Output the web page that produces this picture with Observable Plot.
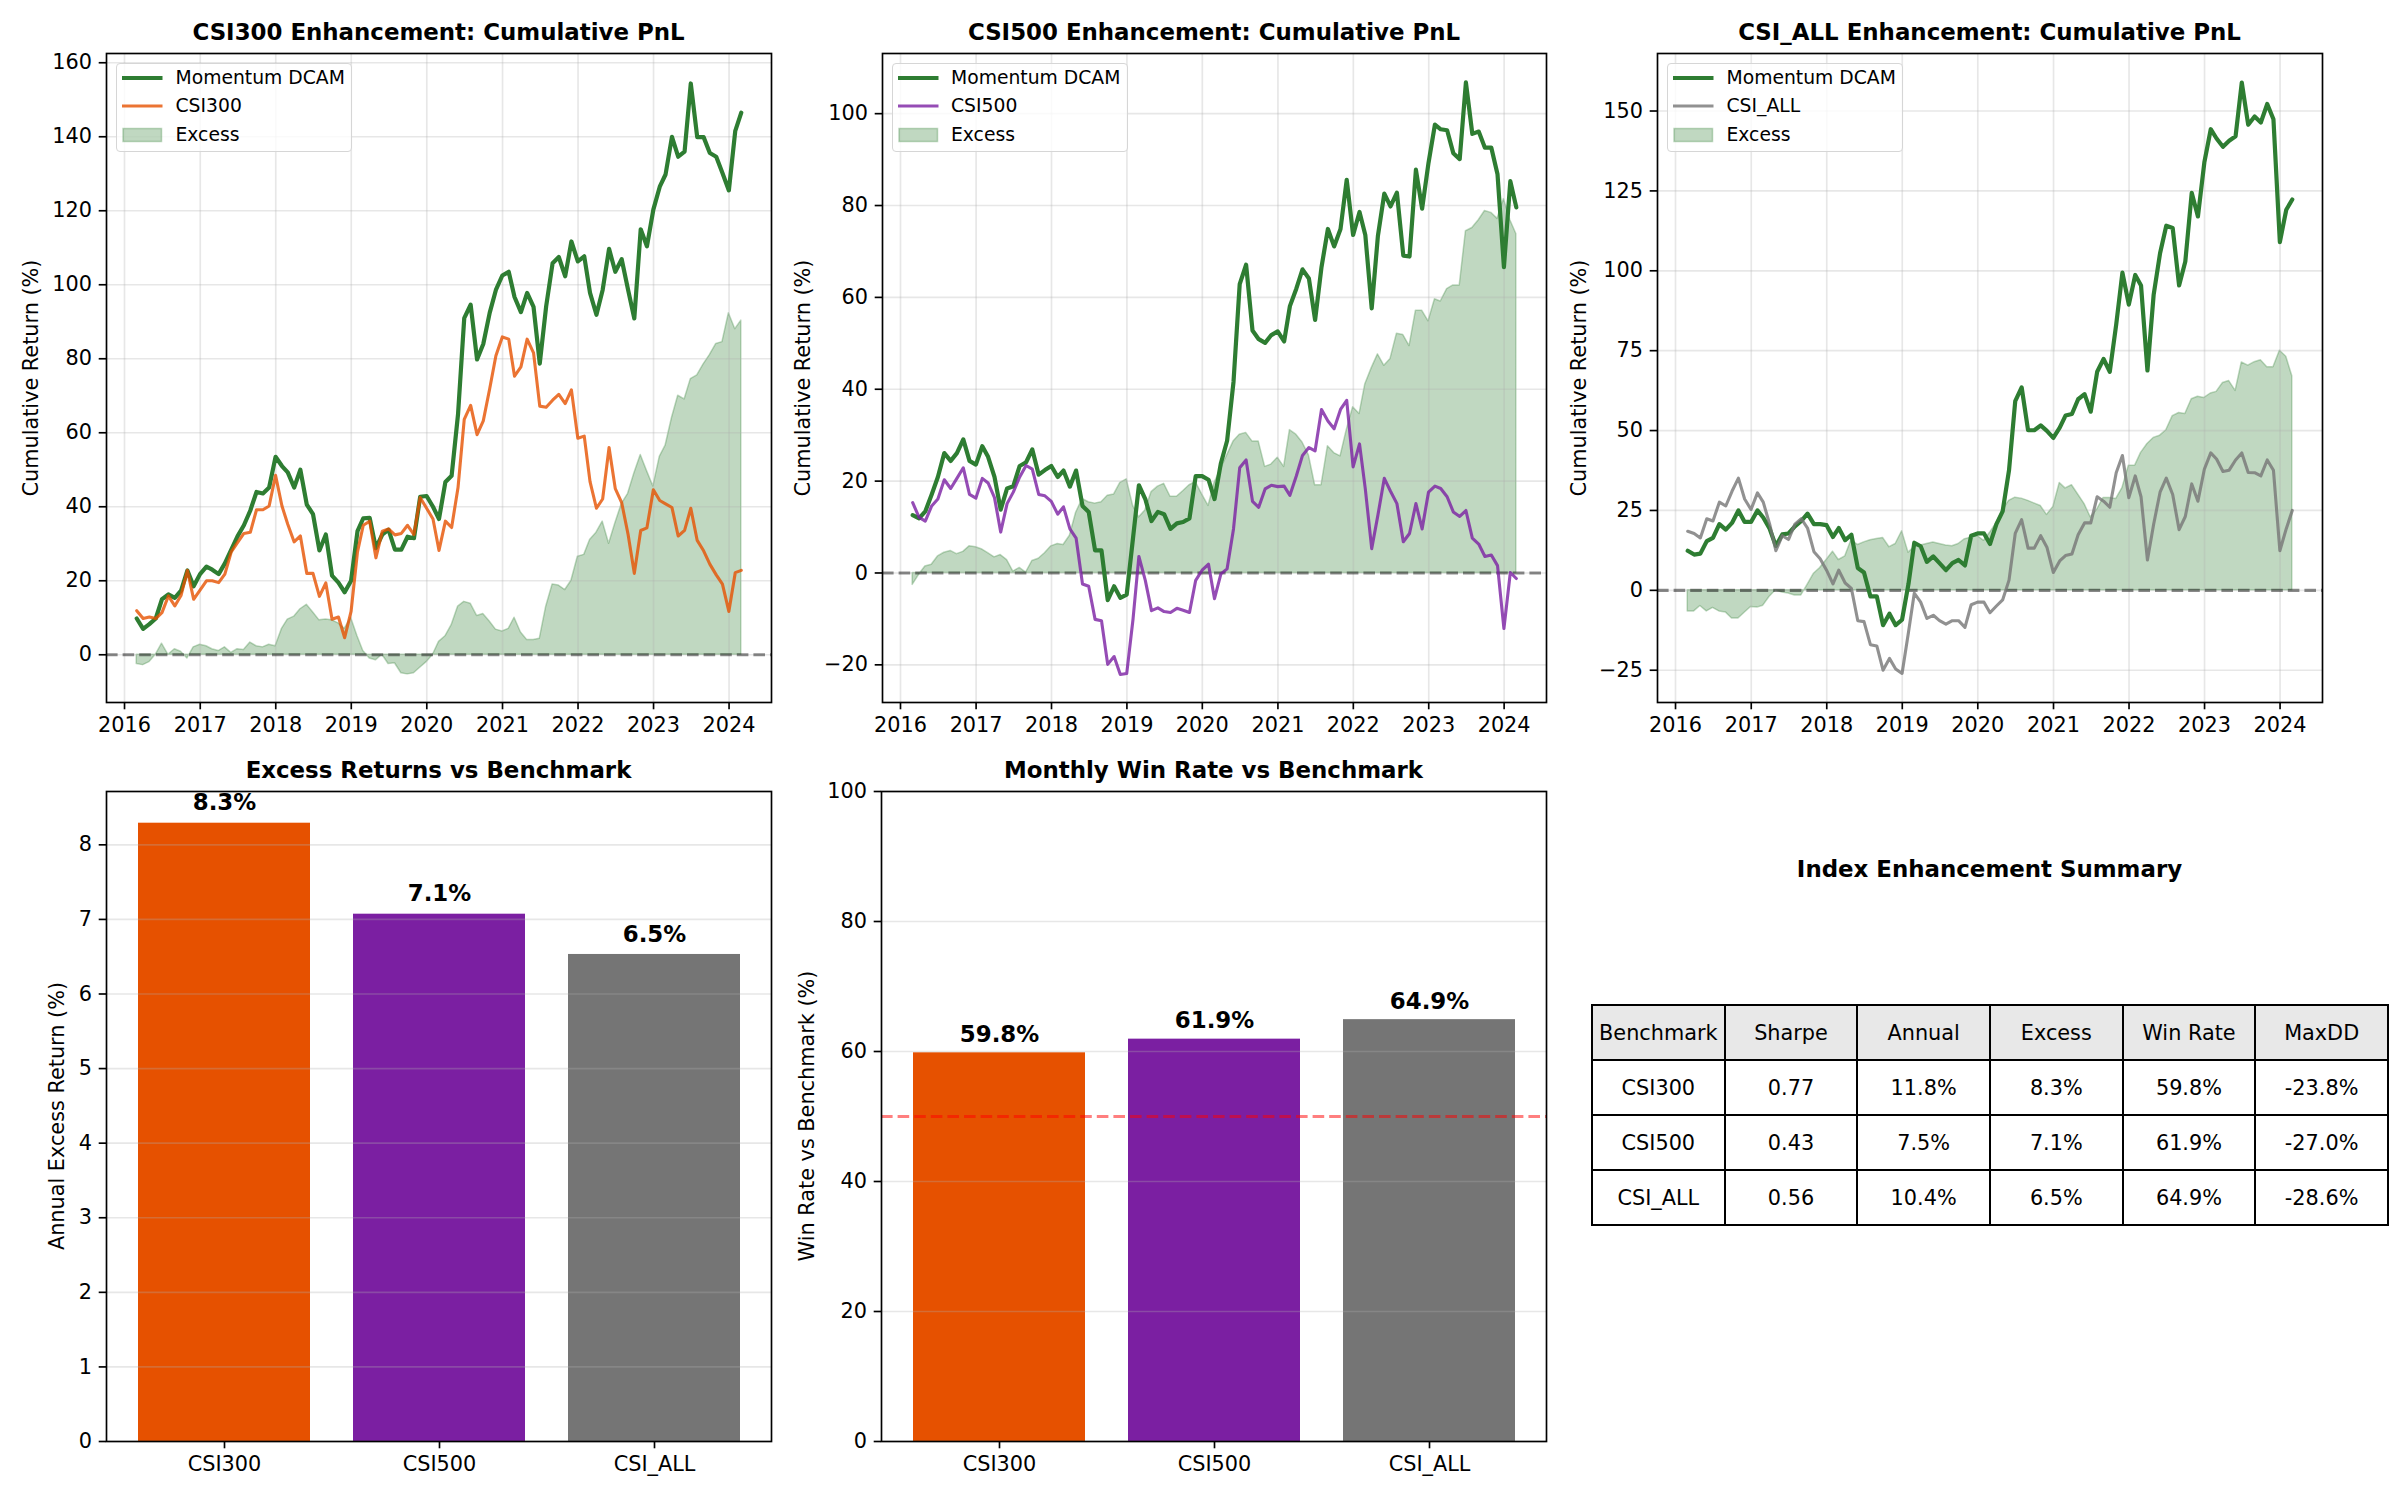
<!DOCTYPE html>
<html><head><meta charset="utf-8">
<script src="https://cdn.jsdelivr.net/npm/d3@7"></script>
<script src="https://cdn.jsdelivr.net/npm/@observablehq/plot@0.6"></script>
<style>
html,body{margin:0;padding:0;background:#fff;}
#fig{position:relative;width:2400px;height:1500px;overflow:hidden;background:#fff;font-family:"DejaVu Sans",sans-serif;color:#000;}
.panel{position:absolute;}
.title{position:absolute;font-weight:bold;font-size:22.9px;line-height:22.9px;text-align:center;white-space:nowrap;}
.ylab{position:absolute;font-size:20.8px;line-height:20.8px;white-space:nowrap;transform:translate(-50%,-50%) rotate(-90deg);}
.legend{position:absolute;box-sizing:border-box;width:236px;height:88.5px;border:1.6px solid #d6d6d6;border-radius:4px;background:rgba(255,255,255,0.8);font-size:18.75px;}
.legend .row{position:absolute;left:0;height:24px;width:100%;}
.legend svg{position:absolute;left:4px;top:0;}
.legend span{position:absolute;left:58.5px;top:0;line-height:24px;white-space:nowrap;}
table.summary{position:absolute;border-collapse:collapse;table-layout:fixed;font-size:20.8px;}
table.summary td{border:2px solid #000;text-align:center;vertical-align:middle;padding:0;white-space:nowrap;overflow:hidden;}
table.summary tr.head td{background:#e8e8e8;}
</style></head>
<body><div id="fig"></div>
<script>
// ---------------- data ----------------
const startMonth = "2016-02";   // first month-end of the series
const endMonth = "2024-02";     // last month-end of the series
const yearTicks = ["2016","2017","2018","2019","2020","2021","2022","2023","2024"];

const csi300Strategy = [9.8,7,8.3,9.8,15,16.3,15.4,17.3,22.8,18.5,
 21.8,23.8,23,21.8,24.7,28.4,32,35,39,44,
 43.6,45.2,53.5,51,49.3,45.2,50,40.6,38,28.2,
 32.5,21.4,19.5,16.9,20,33.4,36.9,37,28.8,32.5,
 33.8,28.4,28.4,31.9,31.5,42.7,42.9,40,36.7,46.7,
 48.4,65,91,94.6,79.8,84,92.4,98.6,102.5,103.5,
 96.7,92.6,97.8,94,78.7,94.2,105.8,107.5,102.3,111.7,
 106.3,107.7,97.8,91.9,98.6,109.7,103.5,106.9,98.6,90.9,
 115,110.4,120.3,126.5,129.8,140,134.6,136,154.4,139.9,
 139.9,135.6,134.6,130.2,125.5,141.6,146.5];
const csi300Index = [11.9,9.8,10.2,9.8,11.4,15.9,13.2,16,22.8,15,
 17.5,20,20,19.5,21.8,27.8,30.3,32.8,33.1,39.2,
 39.2,40.2,48.5,40.2,35.3,30.5,32.1,22,22,15.8,
 19.4,9.6,10.2,4.6,11.7,27.8,35,36.1,26.2,33.4,
 34,32.4,32.8,35,32.5,42.5,39.6,36.7,28.2,36.1,
 34.4,45.2,63.6,67.4,59.5,63.2,71.9,80.8,85.9,85.3,
 75.3,77.8,85.3,81.6,67.2,66.9,68.8,70.4,67.9,71.6,
 58.5,59.1,46.8,39.6,42.1,56,44.9,41.1,32.5,22,
 33.6,34.3,44.6,41.7,40.8,39.8,32.1,33.6,39.6,30.9,
 28.1,24.5,21.6,19.1,11.7,22.2,22.8];
const csi300Excess = [-2.5,-2.8,-2,0,3,0,1.5,0.8,-1,2,
 2.7,2.3,1.5,1,2,0.5,1.5,1.3,3.3,2.3,
 2,2.7,2.3,7,9.5,10.3,12.3,13.5,11.5,9.3,
 9.5,9.3,8.5,7,10,5,1,-1,-1.5,0,
 -2.5,-2.3,-5,-5.3,-5,-3.5,-2,0,3.5,5,
 8,13,14.3,13.8,10.5,11,9,6.8,6.3,7,
 10,6,4,4,4.3,13,19,18.7,17.5,20,
 26.5,27,31,33,36,30,35.5,40.7,43.5,49,
 54,49.7,45.5,53.5,56.5,64,70,69,74.5,75.5,
 78.5,81,84,84.5,92.3,88,90.3];

const csi500Strategy = [12.6,11.9,13.4,17.1,20.9,26.1,24.4,26.1,29.1,24.4,
 23.6,27.6,25.3,20.9,13.8,18.4,18.9,23.3,24.1,26.9,
 21.4,22.4,23.3,20.9,22.3,18.8,22.3,14.6,13.3,4.9,
 4.9,-5.9,-2.9,-5.4,-4.7,7.8,19.1,16.1,11.3,13.3,
 12.8,9.6,10.8,11.1,11.9,21.1,21.1,20.3,16.1,23.9,
 28.8,41.6,62.9,67.1,52.8,50.9,50.1,51.8,52.6,50.4,
 58.1,61.9,66.1,64.1,55.1,66.6,74.9,71.1,74.9,85.6,
 73.6,78.6,73.6,57.6,73.4,82.6,79.8,82.8,69.1,68.9,
 87.8,79.3,89.3,97.6,96.6,96.4,91.4,90.1,106.8,95.6,
 96.1,92.6,92.6,86.8,66.6,85.3,79.6];
const csi500Index = [15.3,12.1,11.3,14.6,16.1,20.3,18.4,20.6,22.9,17.1,
 16.3,20.6,19.6,16.4,8.9,15.1,17.6,20.9,23.4,22.6,
 17.1,16.8,15.6,12.8,14.4,9.6,7.6,-2.4,-2.9,-10.1,
 -10.4,-19.9,-18.2,-22.1,-21.9,-9.9,3.6,-1.6,-8.2,-7.6,
 -8.4,-8.6,-7.7,-8.1,-8.6,-1.6,0.6,1.9,-5.6,-0.2,
 0.9,9.6,22.9,24.6,15.6,14.3,18.3,19.1,18.8,18.9,
 16.9,21.1,25.6,27.3,26.6,35.6,33.1,31.4,35.6,37.6,
 23.1,28.1,18.3,5.3,12.6,20.6,17.8,15.1,6.8,8.6,
 15.1,9.6,17.6,18.9,18.4,16.6,13.3,12.3,13.6,7.6,
 6.3,3.6,3.9,1.6,-12.1,0.1,-1.2];
const csi500Excess = [-2.6,-0.4,1.4,1.8,3.6,4.4,4.8,4.1,4.6,5.8,
 5.6,5.1,4.3,3.4,3.9,2.8,0.3,1.1,0.1,2.6,
 3.1,4.3,5.8,6.3,6.1,8.1,13.1,16.1,15.4,15.1,
 15.4,16.8,17.1,19.6,20.4,14.6,12.1,13.6,17.6,18.8,
 19.4,16.6,16.6,17.8,19.1,19.8,17.1,14.6,19.6,22.6,
 25.6,28.6,30.1,30.5,28.6,28.6,23.1,23.6,25.1,23.1,
 31.1,30.1,28.4,25.6,19.1,19.1,27.6,26.1,25.4,31.1,
 36.1,34.6,41.1,44.6,47.6,45.1,46.6,52.1,51.8,49.4,
 57.1,57.1,54.8,59.6,59.1,61.8,62.6,62.6,74.4,75.1,
 76.8,78.8,78.4,77.1,81.4,76.8,73.8];

const csiAllStrategy = [12.4,11.2,11.5,15.4,16.4,20.7,19,21.1,25,21.4,
 21.4,25,22.8,19.3,13.9,17.5,17.8,20,21.7,24,
 20.7,20.7,20.4,16.7,19.5,15.7,17.4,7,5.6,-1.9,
 -1.9,-10.9,-7.3,-10.9,-9.2,2,14.9,13.8,8.9,10.6,
 8.5,6.3,8.5,9.5,7.8,17.1,17.8,17.8,14.5,20.7,
 24.7,37.6,59.2,63.5,50.1,50.1,51.6,49.9,47.7,50.9,
 54.7,55.2,59.8,61.4,55.9,68.4,72.4,68.4,83.2,99.4,
 89.4,98.7,95.4,68.8,92.5,105.5,114.1,113.4,95.4,102.9,
 124.4,117,133.9,144.3,141.4,138.8,140.7,142.1,158.9,145.7,
 148.3,146.4,152.2,147.4,109,119.1,122.3];
const csiAllIndex = [18.5,17.8,16.4,22.4,21.7,27.6,26.4,31,35.1,28.6,
 25.3,30.5,27.6,20.7,12.4,17.1,15.9,20.7,22.4,19.5,
 12.1,9.9,6.3,2,6.3,2.3,0.6,-9.5,-9.8,-17,
 -17.4,-25,-21.3,-24.6,-26,-13.1,-0.9,-3.7,-8.8,-7.8,
 -9.5,-10.6,-9.5,-9.5,-11.6,-4.5,-3.7,-3.7,-7,-4.9,
 -3,3.2,17.8,22.1,13.2,13.2,17.1,13.5,5.6,9.2,
 10.9,11.4,17.4,21.1,21.1,29.3,27.9,26,36.8,42.2,
 29,35.8,29.3,9.5,20.7,30.7,35.1,30,19,23.1,
 33.3,27.9,37.9,43,41.1,37.2,37.6,40.8,43,36.9,
 36.8,35.8,40.8,37.6,12.4,19.3,25];
const csiAllExcess = [-6.6,-6.6,-4.9,-6.6,-5.5,-6.6,-6.9,-8.8,-8.8,-7,
 -5.2,-5.4,-4.8,-2,0,-0.7,-1,-1.6,-1.6,1.7,
 5.2,7,9.5,12.1,9.5,10.6,15.7,14.2,15,15.7,
 16.1,16.4,13.5,14.5,18.5,11.8,13.5,14,14.5,15,
 14.5,14,13.8,14.5,16,16.5,17,15.5,18,21,
 25,28,29,28.7,28,27.2,26.4,23.6,26.1,33.6,
 31.9,32.9,30,27,22.8,25.3,28.9,28.9,28.6,32,
 39,39.1,43,45.8,47.7,48.4,50.1,54.5,55.5,55.2,
 59.8,60.6,60.2,61.6,62.1,64.9,65.5,62.4,71.3,70.3,
 71.4,72,69.8,69.8,75,73.1,67];

const benchmarks = ["CSI300","CSI500","CSI_ALL"];
const annualExcess = [8.29,7.07,6.53];
const winRate = [59.8,61.9,64.9];
const barColors = ["#E65100","#7B1FA2","#757575"];
const excessTicks = [0,1,2,3,4,5,6,7,8];
const winTicks = [0,20,40,60,80,100];

const tableHeader = ["Benchmark","Sharpe","Annual","Excess","Win Rate","MaxDD"];
const tableCSI300 = ["CSI300","0.77","11.8%","8.3%","59.8%","-23.8%"];
const tableCSI500 = ["CSI500","0.43","7.5%","7.1%","61.9%","-27.0%"];
const tableCSIALL = ["CSI_ALL","0.56","10.4%","6.5%","64.9%","-28.6%"];

// ---------------- helpers ----------------
const fig = document.getElementById("fig");
const parseMonth = d3.utcParse("%Y-%m");
const monthStarts = d3.utcMonth.range(d3.utcMonth.offset(parseMonth(startMonth), 1), d3.utcMonth.offset(parseMonth(endMonth), 2));
const dates = monthStarts.map(d => d3.utcDay.offset(d, -1));   // month-end dates
const yearDates = yearTicks.map(y => d3.utcParse("%Y")(y));
const t0 = +dates[0], t1 = +dates[dates.length - 1], pad = (t1 - t0) * 0.05;
const xDomain = [new Date(t0 - pad), new Date(t1 + pad)];
const fmt = d => (d < 0 ? "\u2212" : "") + Math.abs(d);
const GREEN = "#2E7D32";
const gridStyle = {stroke: "#b0b0b0", strokeOpacity: 0.3, strokeWidth: 1.67};
const axisStyle = {tickSize: 7.3, tickPadding: 7.3, strokeWidth: 1.67, stroke: "black", fill: "black", label: null};
const plotStyle = {fontFamily: "DejaVu Sans", fontSize: "20.8px", color: "black", background: "transparent", overflow: "visible"};

function place(node, left, top) {
  const d = document.createElement("div");
  d.className = "panel"; d.style.left = left + "px"; d.style.top = top + "px";
  d.appendChild(node); fig.appendChild(d);
}
function addTitle(text, left, width, baseline) {
  const d = document.createElement("div");
  d.className = "title"; d.textContent = text;
  d.style.left = left + "px"; d.style.width = width + "px";
  d.style.top = (baseline - 0.846 * 22.9) + "px";
  fig.appendChild(d);
}
function addYLabel(text, cx, cy) {
  const d = document.createElement("div");
  d.className = "ylab"; d.textContent = text;
  d.style.left = cx + "px"; d.style.top = cy + "px";
  fig.appendChild(d);
}
function addLegend(left, top, benchLabel, benchColor) {
  const box = document.createElement("div");
  box.className = "legend"; box.style.left = left + "px"; box.style.top = top + "px";
  const items = [
    {label: "Momentum DCAM", kind: "line", color: GREEN, w: 4.2, op: 1},
    {label: benchLabel, kind: "line", color: benchColor, w: 3.1, op: 0.8},
    {label: "Excess", kind: "patch", color: GREEN}
  ];
  const centers = [13.5, 42, 71];
  items.forEach((it, i) => {
    const row = document.createElement("div");
    row.className = "row"; row.style.top = (centers[i] - 12) + "px";
    const ns = "http://www.w3.org/2000/svg";
    const svg = document.createElementNS(ns, "svg");
    svg.setAttribute("width", 42); svg.setAttribute("height", 24);
    if (it.kind === "line") {
      const l = document.createElementNS(ns, "line");
      l.setAttribute("x1", 1); l.setAttribute("x2", 41.5); l.setAttribute("y1", 12); l.setAttribute("y2", 12);
      l.setAttribute("stroke", it.color); l.setAttribute("stroke-width", it.w); l.setAttribute("stroke-opacity", it.op);
      svg.appendChild(l);
    } else {
      const r = document.createElementNS(ns, "rect");
      r.setAttribute("x", 2); r.setAttribute("y", 5.5); r.setAttribute("width", 38.5); r.setAttribute("height", 13);
      r.setAttribute("fill", it.color); r.setAttribute("fill-opacity", 0.3);
      r.setAttribute("stroke", it.color); r.setAttribute("stroke-opacity", 0.3); r.setAttribute("stroke-width", 1.5);
      svg.appendChild(r);
    }
    const s = document.createElement("span"); s.textContent = it.label;
    row.appendChild(svg); row.appendChild(s); box.appendChild(row);
  });
  fig.appendChild(box);
}

function topPanel(svgLeft, mLeft, mRight, strat, bench, excess, benchColor, yDomain, yTicks) {
  const rows = dates.map((d, i) => ({date: d, s: strat[i], b: bench[i], e: excess[i]}));
  const p = Plot.plot({
    width: 800, height: 760, marginLeft: mLeft, marginRight: mRight, marginTop: 53, marginBottom: 58,
    style: plotStyle,
    x: {type: "utc", domain: xDomain},
    y: {domain: yDomain},
    marks: [
      Plot.areaY(rows, {x: "date", y1: 0, y2: "e", fill: GREEN, fillOpacity: 0.3, stroke: GREEN, strokeOpacity: 0.3, strokeWidth: 1.5}),
      Plot.gridX(yearDates, gridStyle),
      Plot.gridY(yTicks, gridStyle),
      Plot.ruleY([0], {stroke: "black", strokeOpacity: 0.45, strokeWidth: 3.1, strokeDasharray: "11.6,5"}),
      Plot.line(rows, {x: "date", y: "s", stroke: GREEN, strokeWidth: 4.2}),
      Plot.line(rows, {x: "date", y: "b", stroke: benchColor, strokeOpacity: 0.8, strokeWidth: 3.1}),
      Plot.frame({stroke: "black", strokeWidth: 1.67}),
      Plot.axisX(yearDates, {...axisStyle, tickFormat: d3.utcFormat("%Y")}),
      Plot.axisY(yTicks, {...axisStyle, tickFormat: fmt})
    ]
  });
  place(p, svgLeft, 0);
}

function barPanel(svgLeft, mLeft, mRight, values, yDomain, yTicks, refLine, labelDy) {
  const rows = benchmarks.map((n, i) => ({name: n, v: values[i], color: barColors[i], label: values[i].toFixed(1) + "%"}));
  const marks = [
    Plot.barY(rows, {x: "name", y: "v", fill: "color"}),
    Plot.gridY(yTicks, gridStyle)
  ];
  if (refLine != null) marks.push(Plot.ruleY([refLine], {stroke: "red", strokeOpacity: 0.5, strokeWidth: 3.1, strokeDasharray: "11.6,5"}));
  marks.push(
    Plot.text(rows, {x: "name", y: "v", text: "label", dy: labelDy, lineAnchor: "bottom", fontWeight: "bold", fontSize: 22.9, fill: "black"}),
    Plot.frame({stroke: "black", strokeWidth: 1.67}),
    Plot.axisX({...axisStyle}),
    Plot.axisY(yTicks, {...axisStyle, tickFormat: fmt})
  );
  const p = Plot.plot({
    width: 800, height: 740, marginLeft: mLeft, marginRight: mRight, marginTop: 31, marginBottom: 59,
    style: plotStyle,
    x: {domain: benchmarks, paddingInner: 0.2, paddingOuter: 0.14, align: 0.5},
    y: {domain: yDomain},
    color: {type: "identity"},
    marks
  });
  place(p, svgLeft, 760);
}

// ---------------- top row ----------------
topPanel(0, 106, 29, csi300Strategy, csi300Index, csi300Excess, "#E65100", [-12.9, 162.5], [0,20,40,60,80,100,120,140,160]);
topPanel(800, 82, 54, csi500Strategy, csi500Index, csi500Excess, "#7B1FA2", [-28.2, 113.1], [-20,0,20,40,60,80,100]);
topPanel(1600, 57, 78, csiAllStrategy, csiAllIndex, csiAllExcess, "#757575", [-35.1, 168], [-25,0,25,50,75,100,125,150]);

addTitle("CSI300 Enhancement: Cumulative PnL", 106, 665, 40.5);
addTitle("CSI500 Enhancement: Cumulative PnL", 882, 664, 40.5);
addTitle("CSI_ALL Enhancement: Cumulative PnL", 1657, 665, 40.5);
addYLabel("Cumulative Return (%)", 30.6, 377.5);
addYLabel("Cumulative Return (%)", 803, 377.5);
addYLabel("Cumulative Return (%)", 1578.7, 377.5);
addLegend(116, 63, "CSI300", "#E65100");
addLegend(891.5, 63, "CSI500", "#7B1FA2");
addLegend(1667, 63, "CSI_ALL", "#757575");

// ---------------- bottom row ----------------
barPanel(0, 106, 29, annualExcess, [0, 8.715], excessTicks, null, -12.9);
barPanel(800, 81, 54, winRate, [0, 100], winTicks, 50, -11);
addTitle("Excess Returns vs Benchmark", 106, 665, 778.5);
addTitle("Monthly Win Rate vs Benchmark", 881, 665, 778.5);
addYLabel("Annual Excess Return (%)", 56.7, 1116);
addYLabel("Win Rate vs Benchmark (%)", 807, 1116);

// ---------------- summary table ----------------
addTitle("Index Enhancement Summary", 1657, 665, 877.3);
const table = document.createElement("table");
table.className = "summary";
table.style.left = "1591px"; table.style.top = "1004px";
table.style.width = "798px"; table.style.height = "220.5px";
const colgroup = document.createElement("colgroup");
tableHeader.forEach(() => { const c = document.createElement("col"); c.style.width = (100 / 6) + "%"; colgroup.appendChild(c); });
table.appendChild(colgroup);
[tableHeader, tableCSI300, tableCSI500, tableCSIALL].forEach((r, i) => {
  const tr = document.createElement("tr");
  if (i === 0) tr.className = "head";
  tr.style.height = "55.1px";
  r.forEach(c => { const td = document.createElement("td"); td.textContent = c; tr.appendChild(td); });
  table.appendChild(tr);
});
fig.appendChild(table);
</script>
</body></html>
